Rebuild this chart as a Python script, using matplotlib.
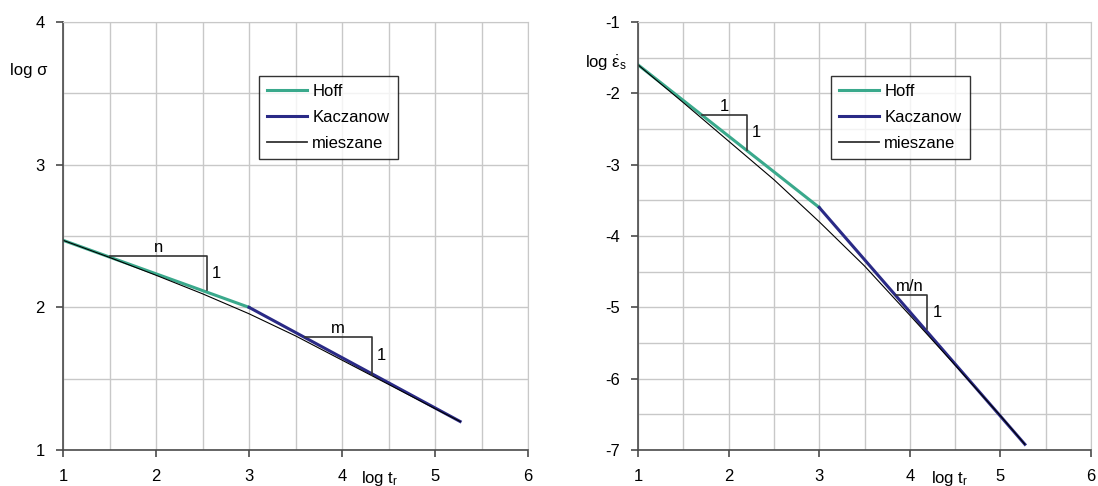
import matplotlib.pyplot as plt
from matplotlib.ticker import MultipleLocator

plt.rcParams['font.family'] = ['Liberation Sans', 'DejaVu Sans']
plt.rcParams['mathtext.fontset'] = 'custom'
plt.rcParams['mathtext.rm'] = 'Liberation Sans'
plt.rcParams['mathtext.it'] = 'Liberation Sans'
plt.rcParams['axes.unicode_minus'] = False

# left chart: log sigma vs log t
hoff_x = [1.0, 3.0]
hoff_sigma = [2.47, 2.0]
kacz_x = [3.0, 5.27]
kacz_sigma = [2.0, 1.2]
mix_x = [1.0, 1.5, 2.0, 2.5, 3.0, 3.5, 4.0, 4.5, 5.0, 5.27]
mix_sigma = [2.47, 2.35, 2.225, 2.095, 1.955, 1.80, 1.63, 1.46, 1.29, 1.20]

# right chart: log strain rate vs log t
hoff_eps = [-1.6, -3.6]
kacz_eps = [-3.6, -6.92]
mix_eps = [-1.6, -2.13, -2.67, -3.21, -3.80, -4.42, -5.11, -5.81, -6.52, -6.92]

green = '#3aa98c'
navy = '#2a2a86'
grid_c = '#c8c8c8'
spine_c = '#4a4a4a'
fs = 12

fig = plt.figure(figsize=(10.98, 4.86), dpi=100)
ax1 = fig.add_axes([63 / 1098, 36 / 486, 465 / 1098, 428 / 486])
ax2 = fig.add_axes([638 / 1098, 36 / 486, 453 / 1098, 428 / 486])


def style(ax, ylim, ystep):
    ax.set_xlim(1, 6)
    ax.set_ylim(*ylim)
    ax.xaxis.set_major_locator(MultipleLocator(1))
    ax.xaxis.set_minor_locator(MultipleLocator(0.5))
    ax.yaxis.set_major_locator(MultipleLocator(ystep))
    ax.yaxis.set_minor_locator(MultipleLocator(ystep / 2))
    ax.grid(which='both', color=grid_c, lw=1)
    ax.set_axisbelow(True)
    for s in ['top', 'right']:
        ax.spines[s].set_color(grid_c)
    for s in ['left', 'bottom']:
        ax.spines[s].set_color(spine_c)
        ax.spines[s].set_linewidth(1.2)
    ax.tick_params(which='major', direction='out', length=5, width=1.2,
                   color=spine_c, labelsize=fs, pad=9)
    ax.tick_params(which='minor', length=0)
    ax.tick_params(axis='y', pad=8)


style(ax1, (1, 4), 1)
style(ax2, (-7, -1), 1)

ax1.plot(hoff_x, hoff_sigma, color=green, lw=2.2, label='Hoff')
ax1.plot(kacz_x, kacz_sigma, color=navy, lw=2.2, label='Kaczanow')
ax1.plot(mix_x, mix_sigma, color='black', lw=0.8, label='mieszane')
ax2.plot(hoff_x, hoff_eps, color=green, lw=2.2, label='Hoff')
ax2.plot(kacz_x, kacz_eps, color=navy, lw=2.2, label='Kaczanow')
ax2.plot(mix_x, mix_eps, color='black', lw=0.8, label='mieszane')

# slope triangles
tri = dict(color='#333333', lw=1.2)
ax1.plot([1.5, 2.55, 2.55], [2.36, 2.36, 2.12], **tri)
ax1.text(2.03, 2.37, 'n', fontsize=fs, ha='center', va='bottom')
ax1.text(2.6, 2.24, '1', fontsize=fs, ha='left', va='center')
ax1.plot([3.6, 4.32, 4.32], [1.795, 1.795, 1.526], **tri)
ax1.text(3.96, 1.80, 'm', fontsize=fs, ha='center', va='bottom')
ax1.text(4.37, 1.66, '1', fontsize=fs, ha='left', va='center')

ax2.plot([1.71, 2.2, 2.2], [-2.3, -2.3, -2.8], **tri)
ax2.text(1.95, -2.29, '1', fontsize=fs, ha='center', va='bottom')
ax2.text(2.26, -2.55, '1', fontsize=fs, ha='left', va='center')
ax2.plot([3.85, 4.19, 4.19], [-4.83, -4.83, -5.31], **tri)
ax2.text(4.0, -4.82, 'm/n', fontsize=fs, ha='center', va='bottom')
ax2.text(4.25, -5.07, '1', fontsize=fs, ha='left', va='center')

# axis labels placed like the original
fig.text(47 / 1098, 1 - 70 / 486, 'log σ', fontsize=fs, ha='right', va='center')
fig.text(380 / 1098, 1 - 478 / 486, 'log t$_r$', fontsize=fs, ha='center', va='center')
fig.text(627 / 1098, 1 - 63 / 486, r'log $\dot{\varepsilon}_s$', fontsize=fs,
         ha='right', va='center')
fig.text(950 / 1098, 1 - 478 / 486, 'log t$_r$', fontsize=fs, ha='center', va='center')

for ax, x0 in [(ax1, 259), (ax2, 831)]:
    leg = ax.legend(loc='upper left', bbox_to_anchor=(x0 / 1098, 1 - 76 / 486),
                    bbox_transform=fig.transFigure, fontsize=fs, frameon=True,
                    fancybox=False, borderaxespad=0, handlelength=2.4,
                    handletextpad=0.3, labelspacing=0.65, borderpad=0.5)
    leg.get_frame().set_edgecolor('black')
    leg.get_frame().set_linewidth(1.0)
    lines = leg.get_lines()
    lines[0].set_linewidth(2.2)
    lines[1].set_linewidth(2.2)
    lines[2].set_linewidth(1.3)
    lines[2].set_color('#333333')

fig.savefig('out.png', dpi=100)
